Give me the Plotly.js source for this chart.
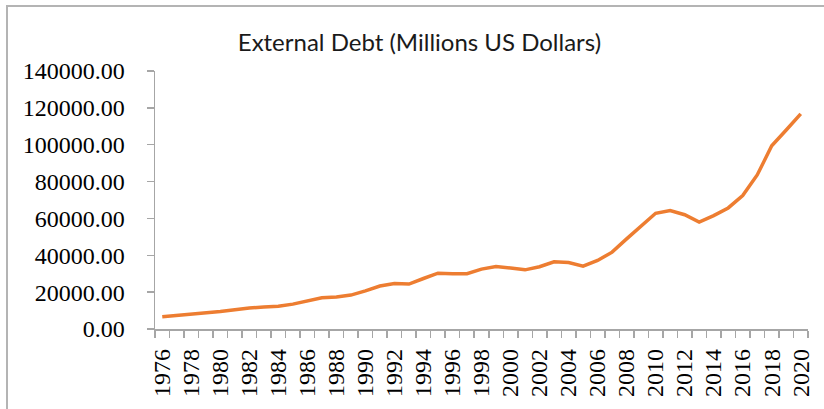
<!DOCTYPE html>
<html>
<head>
<meta charset="utf-8">
<script src="https://cdn.plot.ly/plotly-3.0.1.min.js"></script>
<style>
  html, body { margin: 0; padding: 0; background: #fff; }
  #wrap { position: relative; width: 824px; height: 409px; overflow: hidden; }
  #chart { position: absolute; left: 0; top: 0; width: 824px; height: 409px; }
  #frame { position: absolute; left: 6px; top: 5px; width: 900px; height: 500px;
           border-left: 2px solid #b4b4b4; border-top: 2px solid #b4b4b4; pointer-events: none; }
</style>
</head>
<body>
<div id="wrap">
  <div id="chart"></div>
  <div id="frame"></div>
</div>
<script>
const years = [1976,1977,1978,1979,1980,1981,1982,1983,1984,1985,1986,1987,1988,1989,1990,
  1991,1992,1993,1994,1995,1996,1997,1998,1999,2000,2001,2002,2003,2004,2005,2006,2007,2008,
  2009,2010,2011,2012,2013,2014,2015,2016,2017,2018,2019,2020];
const externalDebt = [6700,7300,7900,8600,9500,10400,11400,11900,12300,13500,15300,16900,17400,18400,20700,
  23300,24700,24400,27400,30300,30000,30000,32500,33900,33100,32100,33800,36500,36100,34100,37200,
  41700,48900,56100,62800,64300,62000,58000,61500,65700,72400,83600,99400,108000,116700];
const yTickVals = [0,20000,40000,60000,80000,100000,120000,140000];
const chartTitle = "External Debt (Millions US Dollars)";

const labelYears = years.filter(y => (y - 1976) % 2 === 0);

const trace = {
  x: years, y: externalDebt, type: 'scatter', mode: 'lines',
  line: { color: '#ED7D31', width: 3.5, shape: 'linear' },
  hoverinfo: 'x+y'
};

const tickFont = { family: '"Liberation Serif", serif', size: 24, color: '#000' };

const layout = {
  width: 824, height: 409,
  margin: { l: 155, r: 16, t: 71, b: 80, pad: 0 },
  paper_bgcolor: '#ffffff', plot_bgcolor: '#ffffff',
  showlegend: false,
  title: {
    text: chartTitle,
    font: { family: 'Lato, "Open Sans", sans-serif', size: 24, color: '#1a1a1a' },
    x: 0.509, xref: 'container', xanchor: 'center',
    y: 1 - 43/409, yref: 'container', yanchor: 'middle'
  },
  xaxis: {
    type: 'linear',
    range: [years[0] - 0.5, years[years.length - 1] + 0.5],
    tickmode: 'array', tickvals: labelYears, ticktext: labelYears.map(String),
    tickangle: -90,
    ticks: '', ticklen: 0,
    ticklabelstandoff: 9,
    showline: true, linecolor: '#a6a6a6', linewidth: 1.5,
    showgrid: false, zeroline: false,
    tickfont: tickFont,
    minor: { tickmode: 'array', tickvals: years.map(y => y - 0.5).concat([years[years.length-1] + 0.5]),
             ticks: 'outside', ticklen: 7, tickcolor: '#a6a6a6', tickwidth: 1.5, showgrid: false },
    fixedrange: true
  },
  yaxis: {
    range: [0, 140000],
    tickmode: 'array', tickvals: yTickVals,
    tickformat: '.2f',
    ticks: 'outside', ticklen: 7, tickcolor: '#a6a6a6', tickwidth: 1.5,
    ticklabelstandoff: 17,
    showline: true, linecolor: '#a6a6a6', linewidth: 1.5,
    showgrid: false, zeroline: false,
    tickfont: tickFont,
    fixedrange: true
  }
};

Plotly.newPlot('chart', [trace], layout, { displayModeBar: false, staticPlot: true });
</script>
</body>
</html>
